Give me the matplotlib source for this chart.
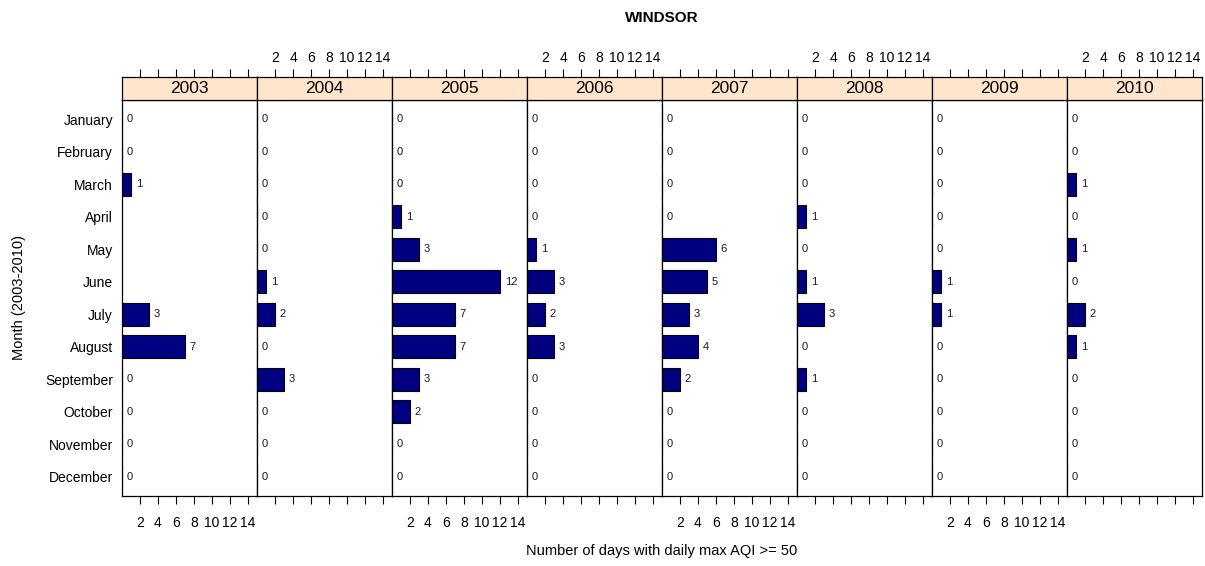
import numpy as np
import matplotlib
matplotlib.use("Agg")
import matplotlib.pyplot as plt

plt.rcParams['font.family'] = ['Liberation Sans', 'DejaVu Sans']

months = ["January", "February", "March", "April", "May", "June", "July",
          "August", "September", "October", "November", "December"]
years = ["2003", "2004", "2005", "2006", "2007", "2008", "2009", "2010"]
NA = np.nan
v2003 = [0, 0, 1, NA, NA, NA, 3, 7, 0, 0, 0, 0]
v2004 = [0, 0, 0, 0, 0, 1, 2, 0, 3, 0, 0, 0]
v2005 = [0, 0, 0, 1, 3, 12, 7, 7, 3, 2, 0, 0]
v2006 = [0, 0, 0, 0, 1, 3, 2, 3, 0, 0, 0, 0]
v2007 = [0, 0, 0, 0, 6, 5, 3, 4, 2, 0, 0, 0]
v2008 = [0, 0, 0, 1, 0, 1, 3, 0, 1, 0, 0, 0]
v2009 = [0, 0, 0, 0, 0, 1, 1, 0, 0, 0, 0, 0]
v2010 = [0, 0, 1, 0, 1, 0, 2, 1, 0, 0, 0, 0]
xticks = [2, 4, 6, 8, 10, 12, 14]
series = [v2003, v2004, v2005, v2006, v2007, v2008, v2009, v2010]

W, H = 1205, 566
fig = plt.figure(figsize=(W / 100, H / 100), dpi=100)

left_px, right_px = 122, 1202
top_px, bottom_px = 100, 496
strip_top_px = 77
pw = (right_px - left_px) / len(years)

ypos = np.arange(1, len(months) + 1)

for i, (yr, vals) in enumerate(zip(years, series)):
    x0 = (left_px + i * pw) / W
    ax = fig.add_axes([x0, 1 - bottom_px / H, pw / W, (bottom_px - top_px) / H])
    sax = fig.add_axes([x0, 1 - top_px / H, pw / W, (top_px - strip_top_px) / H])
    vals = np.array(vals, dtype=float)
    mask = ~np.isnan(vals)
    ax.barh(ypos[mask], vals[mask], height=0.7, color="#000080",
            edgecolor="black", linewidth=0.8, zorder=2)
    for y, v in zip(ypos[mask], vals[mask]):
        ax.annotate(f"{int(v)}", (v, y), xytext=(3.5, 0), textcoords="offset points",
                    ha="left", va="center", fontsize=8, color="#1a1a1a")
    ax.set_xlim(0, 15)
    ax.set_ylim(12.6, 0.4)
    ax.set_xticks(xticks)
    ax.tick_params(axis="x", direction="out", length=6, width=0.8, pad=8.5,
                   labelsize=10, top=False, labelbottom=(i % 2 == 0))
    if i == 0:
        ax.set_yticks(ypos)
        ax.set_yticklabels(months, fontsize=10)
        ax.tick_params(axis="y", length=0, pad=6.5)
    else:
        ax.set_yticks([])
    for sp in ax.spines.values():
        sp.set_linewidth(0.9)

    sax.set_facecolor("#ffe5cc")
    sax.set_xlim(0, 15)
    sax.set_ylim(0, 1)
    sax.set_yticks([])
    sax.set_xticks(xticks)
    sax.xaxis.tick_top()
    sax.tick_params(axis="x", direction="out", length=6, width=0.8, pad=3,
                    labelsize=10, labeltop=(i % 2 == 1), bottom=False,
                    labelbottom=False)
    sax.text(7.5, 0.5, yr, ha="center", va="center", fontsize=12.5)
    for sp in sax.spines.values():
        sp.set_linewidth(0.9)

cx = (left_px + right_px) / 2 / W
fig.text(cx, 1 - 18 / H, "WINDSOR", ha="center", va="center",
         fontsize=11, fontweight="bold")
fig.text(cx, 1 - 551 / H, "Number of days with daily max AQI >= 50",
         ha="center", va="center", fontsize=10.5)
fig.text(19 / W, 1 - (top_px + bottom_px) / 2 / H, "Month (2003-2010)",
         ha="center", va="center", rotation=90, fontsize=10.5)

fig.savefig("out.png", dpi=100)
